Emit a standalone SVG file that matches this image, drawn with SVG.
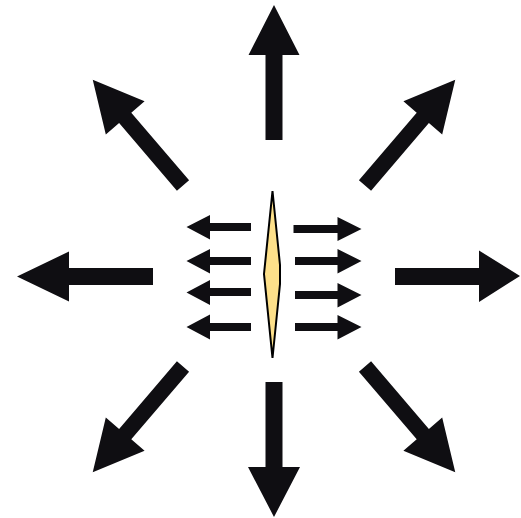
<svg xmlns="http://www.w3.org/2000/svg" width="521" height="518" viewBox="0 0 521 518">
  <style>
    .big { fill: #0f0e12; }
    .small { fill: #0f0e12; }
    .lens { fill: #fde08a; stroke: #000; stroke-width: 2; stroke-linejoin: miter; }
  </style>
  <defs>
    <polygon id="diag" points="0,-8 89,-8 89,-25.5 139,0 89,25.5 89,8 0,8"/>
  </defs>
  <rect width="521" height="518" fill="#fff"/>
  <g id="connectors">
    <g id="big-arrows" class="big">
      <polygon id="up" points="265.5,140 265.5,55 248.5,55 274,5 299.5,55 282.5,55 282.5,140"/>
      <polygon id="down" points="265.5,382 265.5,467 248,467 274,517 300,467 282.5,467 282.5,382"/>
      <polygon id="left" points="153,268 69,268 69,251.5 17,276.5 69,301.5 69,285 153,285"/>
      <polygon id="right" points="395,268 479,268 479,250.5 520,276 479,302 479,285 395,285"/>
      <use href="#diag" transform="translate(183,185.5) rotate(-130.5)"/>
      <use href="#diag" transform="translate(365,185.5) rotate(-49.5)"/>
      <use href="#diag" transform="translate(183,366.5) rotate(130.5)"/>
      <use href="#diag" transform="translate(365,366.5) rotate(49.5)"/>
    </g>
    <g id="small-arrows" class="small">
      <polygon points="251,223 210,223 210,215 186.5,227 210,239.5 210,231 251,231"/>
      <polygon points="251,257 210,257 210,249 186.5,261 210,273.5 210,265 251,265"/>
      <polygon points="251,288 210,288 210,280 186.5,292.5 210,305 210,296 251,296"/>
      <polygon points="251,323 210,323 210,314.5 186.5,327 210,339.5 210,331 251,331"/>
      <polygon points="293.5,225 337.5,225 337.5,217 361.5,229 337.5,241 337.5,233 293.5,233"/>
      <polygon points="295,257 337.5,257 337.5,249 361.5,261 337.5,273.5 337.5,265 295,265"/>
      <polygon points="295,291 337.5,291 337.5,283 361.5,295 337.5,307.5 337.5,299 295,299"/>
      <polygon points="295,323 337.5,323 337.5,315 361.5,327 337.5,339.5 337.5,331 295,331"/>
    </g>
  </g>
  <g id="lens">
    <polygon class="lens" points="272.5,191 280,265 280,284 272.5,358 264,274"/>
  </g>
</svg>
